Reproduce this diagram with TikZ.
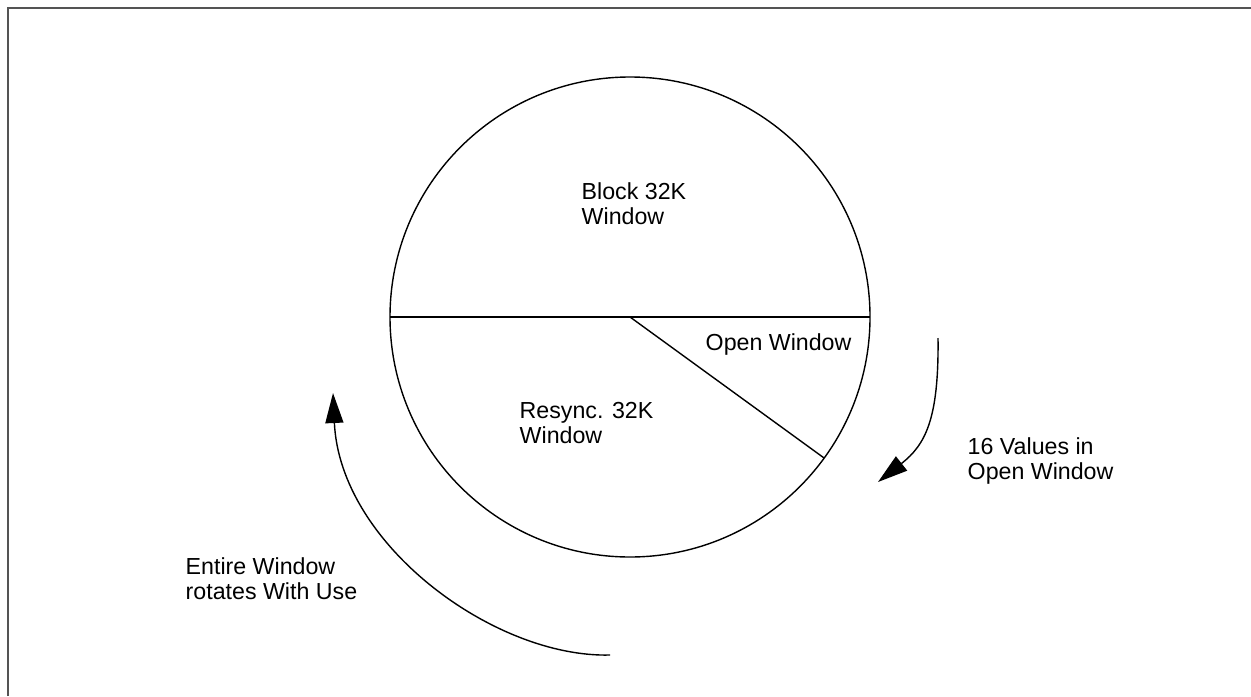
\documentclass[tikz,border=0pt]{standalone}
\usepackage{fontspec}
\setmainfont{Liberation Sans}
\usetikzlibrary{positioning,arrows.meta}

\begin{document}
\begin{tikzpicture}[x=0.5pt, y=-0.5pt, line width=0.7pt,
    lbl/.style={anchor=base west, align=left, inner sep=0pt, font=\fontsize{11.6pt}{12.2pt}\selectfont},
    turn/.style={-{Triangle[length=15pt,width=9pt]}}]
    \useasboundingbox (0,0) rectangle (1251,696);
    \draw[line width=1.1pt, black!67] (8,696) -- (8,8) -- (1251,8);

    \node[draw, circle, minimum size=240pt, inner sep=0pt, outer sep=0pt] (wheel) at (630,317) {};
    \draw (wheel.west) -- (wheel.east);
    \draw (wheel.center) -- (wheel.-36.5);

    \node[lbl] (block) at (581,224) {Block 32K\\Window};
    \node[lbl] (resync) at (519,443) {Resync. 32K\\Window};
    \node[lbl] (open) at (705,350) {Open Window};
    \node[lbl] (values) at (967,479) {16 Values in\\Open Window};
    \node[lbl] (entire) at (185,599) {Entire Window\\rotates With Use};

    \coordinate (rs) at (938,338);
    \coordinate (rt) at (878,482);
    \coordinate (ls) at (610,655);
    \coordinate (lt) at (333,393);
    \draw[turn] (rs) .. controls (939,420) and (925,445) .. (rt);
    \draw[turn] (ls) .. controls (495,658) and (340,545) .. (lt);
\end{tikzpicture}
\end{document}
